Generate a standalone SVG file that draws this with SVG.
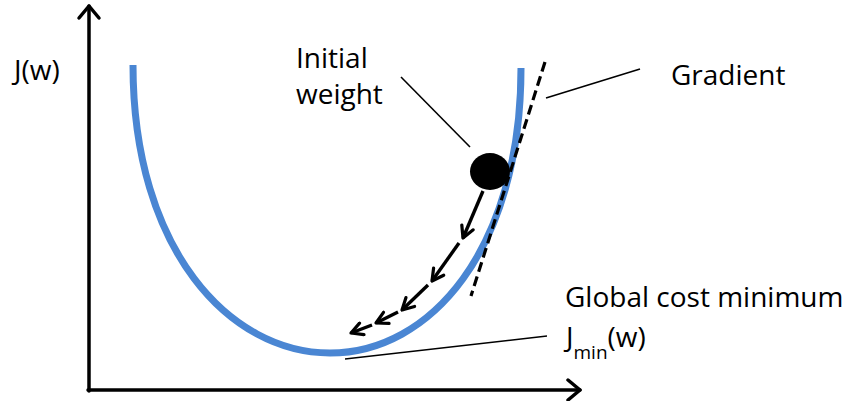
<svg xmlns="http://www.w3.org/2000/svg" width="850" height="401" viewBox="0 0 850 401">
<style>
  .lbl { font-family: "Open Sans", "Liberation Sans", sans-serif; font-size: 28px; fill: #000; }
  .sub { font-family: "Open Sans", "Liberation Sans", sans-serif; font-size: 19px; fill: #000; }
  .axis { stroke: #000; stroke-width: 3.5; fill: none; stroke-linecap: round; stroke-linejoin: round; }
  .lead { stroke: #000; stroke-width: 1.6; fill: none; }
  .step { stroke: #000; stroke-width: 3.4; fill: none; marker-end: url(#chev); }
</style>
<defs>
  <marker id="chev" viewBox="0 0 16 16" refX="14" refY="8" markerWidth="16" markerHeight="16" markerUnits="userSpaceOnUse" orient="auto">
    <path d="M2.5,1.8 L14,8 L2.5,14.2" fill="none" stroke="#000" stroke-width="3.2" stroke-linecap="round" stroke-linejoin="round"/>
  </marker>
</defs>
<rect width="850" height="401" fill="#fff"/>
<g id="axes">
  <path class="axis" d="M89,391 L89,6"/>
  <path class="axis" d="M79,18 L89,6 L99,18"/>
  <path class="axis" d="M88,390 L580,390"/>
  <path class="axis" d="M568,380 L580,390 L568,400"/>
</g>
<g id="cost-curve">
  <path d="M133,65 C133,250 230,353 330,353 C430,353 521,250 521,68" fill="none" stroke="#4a86d3" stroke-width="7"/>
</g>
<g id="gradient-line">
  <path d="M545,62 L471,296" fill="none" stroke="#000" stroke-width="3.2" stroke-dasharray="10,5"/>
</g>
<g id="initial-weight-ball">
  <ellipse cx="490" cy="171.5" rx="20" ry="18.5" fill="#000"/>
</g>
<g id="connectors">
  <line class="lead" x1="401" y1="77" x2="470" y2="147"/>
  <line class="lead" x1="546" y1="98" x2="640" y2="69"/>
  <line class="lead" x1="345" y1="359" x2="547" y2="336"/>
  <line class="step" x1="483" y1="191" x2="463" y2="238"/>
  <line class="step" x1="459" y1="243" x2="432" y2="281"/>
  <line class="step" x1="428" y1="285" x2="402" y2="310"/>
  <line class="step" x1="398" y1="312" x2="376" y2="323"/>
  <line class="step" x1="372" y1="325" x2="351" y2="333"/>
</g>
<g id="label-jw">
  <text class="lbl" x="14" y="80">J(w)</text>
</g>
<g id="label-initial-weight">
  <text class="lbl" x="296" y="68">Initial</text>
  <text class="lbl" x="296" y="104">weight</text>
</g>
<g id="label-gradient">
  <text class="lbl" x="671" y="85">Gradient</text>
</g>
<g id="label-global-min">
  <text class="lbl" x="565" y="307">Global cost minimum</text>
  <text class="lbl" x="566" y="347">J<tspan class="sub" dy="12">min</tspan><tspan dy="-12">(w)</tspan></text>
</g>
</svg>
